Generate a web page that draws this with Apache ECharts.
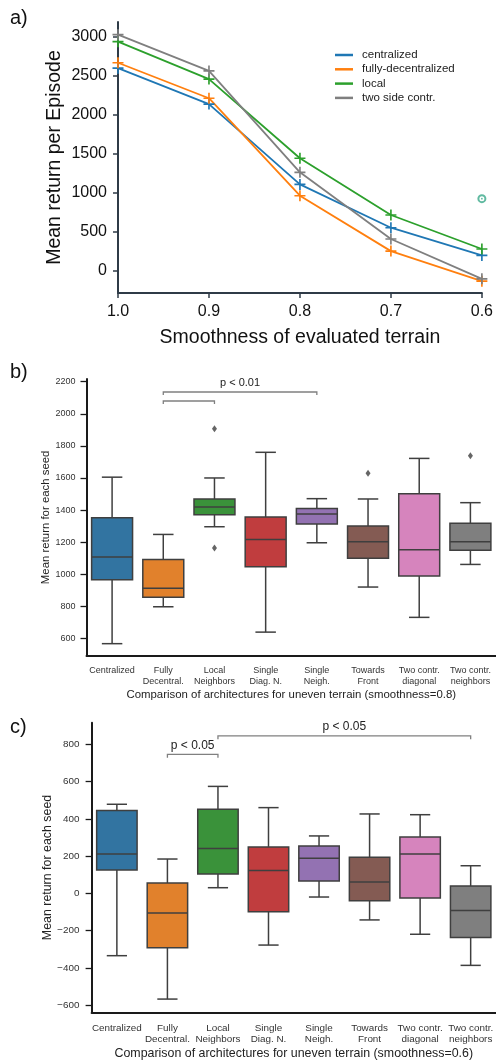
<!DOCTYPE html>
<html>
<head>
<meta charset="utf-8">
<script src="https://cdn.jsdelivr.net/npm/echarts@6/dist/echarts.min.js"></script>
<style>
  html, body { margin: 0; padding: 0; background: #fff; }
  #chart { width: 496px; height: 1063px; }
</style>
</head>
<body>
<div id="chart"></div>
<script>
// ---------- a) mean return vs. terrain smoothness ----------
const smoothness = [1.0, 0.9, 0.8, 0.7, 0.6];
const seriesNames = ['centralized', 'fully-decentralized', 'local', 'two side contr.'];
const centralized = [2600, 2140, 1110, 555, 200];
const fullyDecentralized = [2670, 2215, 965, 255, -130];
const local = [2940, 2460, 1445, 718, 282];
const twoSideContr = [3030, 2565, 1265, 410, -100];
const extraPoint = [[0.6, 927]];
const yTicksA = [0, 500, 1000, 1500, 2000, 2500, 3000];

// ---------- b) and c) per-seed returns by architecture ----------
const architectures = ['Centralized', 'Fully\nDecentral.', 'Local\nNeighbors', 'Single\nDiag. N.',
  'Single\nNeigh.', 'Towards\nFront', 'Two contr.\ndiagonal', 'Two contr.\nneighbors'];

// smoothness = 0.8
const lowB = [567, 797, 1296, 639, 1196, 920, 731, 1061];
const q1B = [966, 856, 1371, 1047, 1313, 1099, 989, 1149];
const medB = [1107, 912, 1419, 1217, 1375, 1203, 1153, 1203];
const q3B = [1352, 1092, 1469, 1356, 1410, 1300, 1502, 1317];
const highB = [1605, 1248, 1600, 1760, 1471, 1469, 1722, 1446];
const outliersB = [[2, 1907], [2, 1163], [5, 1629], [7, 1739]];
const yTicksB = [600, 800, 1000, 1200, 1400, 1600, 1800, 2000, 2200];
// [from, to, bar value, tip value]
const bracketsB = [[1, 2, 2080, 2061], [1, 4, 2136, 2117]];
const bracketTextB = ['', 'p < 0.01'];

// smoothness = 0.6
const lowC = [-335, -568, 30, -278, -20, -143, -220, -387];
const q1C = [125, -292, 104, -99, 66, -40, -25, -238];
const medC = [211, -106, 241, 122, 188, 61, 211, -93];
const q3C = [444, 55, 451, 249, 254, 193, 302, 39];
const highC = [478, 184, 574, 460, 308, 426, 422, 148];
const yTicksC = [-600, -400, -200, 0, 200, 400, 600, 800];
const bracketsC = [[1, 2, 746, 728], [2, 7, 845, 827]];
const bracketTextC = ['p < 0.05', 'p < 0.05'];

const lineColors = ['#1f77b4', '#ff7f0e', '#2ca02c', '#7f7f7f'];
const boxColors = ['#3274a1', '#e1812c', '#3a923a', '#c03d3e', '#9372b2', '#845b53', '#d684bd', '#7f7f7f'];
const EDGE = '#3f3f3f';
const FONT = '"Liberation Sans", Arial, Helvetica, sans-serif';

const plusSymbol = 'path://M8.5,0H11.5V8.5H20V11.5H11.5V20H8.5V11.5H0V8.5H8.5Z';

function pairs(xs, ys) { return xs.map((x, i) => [x, ys[i]]); }
function boxRows(low, q1, med, q3, high) {
  return low.map((v, i) => [i, v, q1[i], med[i], q3[i], high[i]]);
}
// plain integers with a typographic minus sign
function tickText(v) { return String(Math.round(v)).replace('-', '\u2212'); }

function renderBox(params, api) {
  const i = api.value(0);
  const pLow = api.coord([i, api.value(1)]);
  const pQ1 = api.coord([i, api.value(2)]);
  const pMed = api.coord([i, api.value(3)]);
  const pQ3 = api.coord([i, api.value(4)]);
  const pHigh = api.coord([i, api.value(5)]);
  const w = api.size([1, 0])[0] * 0.8;
  const cx = pMed[0];
  const ls = { stroke: EDGE, lineWidth: 1.5 };
  return {
    type: 'group',
    children: [
      { type: 'line', shape: { x1: cx, y1: pLow[1], x2: cx, y2: pQ1[1] }, style: ls },
      { type: 'line', shape: { x1: cx, y1: pQ3[1], x2: cx, y2: pHigh[1] }, style: ls },
      { type: 'line', shape: { x1: cx - w / 4, y1: pLow[1], x2: cx + w / 4, y2: pLow[1] }, style: ls },
      { type: 'line', shape: { x1: cx - w / 4, y1: pHigh[1], x2: cx + w / 4, y2: pHigh[1] }, style: ls },
      { type: 'rect', shape: { x: cx - w / 2, y: pQ3[1], width: w, height: pQ1[1] - pQ3[1] },
        style: { fill: boxColors[params.dataIndex], stroke: EDGE, lineWidth: 1.5 } },
      { type: 'line', shape: { x1: cx - w / 2, y1: pMed[1], x2: cx + w / 2, y2: pMed[1] }, style: ls }
    ]
  };
}

function bracketRenderer(texts, fontSize) {
  return function (params, api) {
    const a = api.coord([api.value(0), api.value(2)]);
    const b = api.coord([api.value(1), api.value(2)]);
    const tip = api.coord([api.value(0), api.value(3)])[1];
    const children = [{
      type: 'polyline',
      shape: { points: [[a[0], tip], [a[0], a[1]], [b[0], b[1]], [b[0], tip]] },
      style: { stroke: '#808080', lineWidth: 1.3, fill: null }
    }];
    const t = texts[params.dataIndex];
    if (t) {
      children.push({
        type: 'text',
        style: { text: t, x: (a[0] + b[0]) / 2, y: a[1] - 9, align: 'center', verticalAlign: 'middle',
          font: fontSize + 'px ' + FONT, fill: '#222' }
      });
    }
    return { type: 'group', children };
  };
}

function catAxis(gridIndex, fontSize, lineHeight, margin, name, nameGap, nameSize) {
  return {
    type: 'category', gridIndex, data: architectures, boundaryGap: true,
    axisLine: { onZero: false, lineStyle: { color: '#1a1a1a', width: 2 } },
    axisTick: { alignWithLabel: true, length: 6, lineStyle: { color: '#1a1a1a', width: 1.3 } },
    axisLabel: { interval: 0, fontSize, lineHeight, margin, color: '#333', fontFamily: FONT },
    splitLine: { show: false },
    name, nameLocation: 'middle', nameGap, nameMoveOverlap: false,
    nameTextStyle: { fontSize: nameSize, color: '#222', fontFamily: FONT }
  };
}

function valAxis(gridIndex, min, max, ticks, fontSize, margin, name, nameGap, nameSize) {
  return {
    type: 'value', gridIndex, min, max,
    axisLine: { show: true, onZero: false, lineStyle: { color: '#1a1a1a', width: 2 } },
    axisTick: { show: true, length: 6, customValues: ticks, lineStyle: { color: '#1a1a1a', width: 1.3 } },
    axisLabel: { fontSize, margin, color: '#333', fontFamily: FONT, customValues: ticks, formatter: tickText },
    splitLine: { show: false },
    name, nameLocation: 'middle', nameGap, nameMoveOverlap: false,
    nameTextStyle: { fontSize: nameSize, color: '#222', fontFamily: FONT }
  };
}

const chart = echarts.init(document.getElementById('chart'), null, { renderer: 'canvas' });

const lineData = [centralized, fullyDecentralized, local, twoSideContr];

const option = {
  backgroundColor: '#fff',
  animation: false,
  textStyle: { fontFamily: FONT },
  grid: [
    { left: 118, top: 22, width: 366, height: 271 },
    { left: 86.5, top: 379, width: 413, height: 276.7 },
    { left: 91.6, top: 722.7, width: 407, height: 289.6 }
  ],
  legend: {
    data: seriesNames, orient: 'vertical', left: 335, top: 49, padding: 0,
    icon: 'rect', itemWidth: 18, itemHeight: 2.5, itemGap: 2.3,
    textStyle: { fontSize: 11.5, lineHeight: 12, color: '#222', fontFamily: FONT, padding: [0, 0, 0, 4] }
  },
  xAxis: [
    {
      type: 'value', gridIndex: 0, min: 0.6, max: 1.0, inverse: true,
      axisLine: { onZero: false, lineStyle: { color: '#2f3b47', width: 2 } },
      axisTick: { length: 5, customValues: smoothness, lineStyle: { color: '#2f3b47', width: 1.5 } },
      axisLabel: { fontSize: 16, margin: 11, color: '#111', fontFamily: FONT,
        customValues: smoothness, formatter: v => v.toFixed(1) },
      splitLine: { show: false },
      name: 'Smoothness of evaluated terrain', nameLocation: 'middle', nameGap: 35, nameMoveOverlap: false,
      nameTextStyle: { fontSize: 19.5, color: '#111', fontFamily: FONT }
    },
    catAxis(1, 9, 10.5, 10, 'Comparison of architectures for uneven terrain (smoothness=0.8)', 33.5, 11.4),
    catAxis(2, 9.9, 11, 10, 'Comparison of architectures for uneven terrain (smoothness=0.6)', 35.5, 12.4)
  ],
  yAxis: [
    {
      type: 'value', gridIndex: 0, min: -282, max: 3192,
      axisLine: { show: true, onZero: false, lineStyle: { color: '#2f3b47', width: 2 } },
      axisTick: { show: true, length: 5, customValues: yTicksA, lineStyle: { color: '#2f3b47', width: 1.5 } },
      axisLabel: { fontSize: 16, margin: 11, color: '#111', fontFamily: FONT, customValues: yTicksA, formatter: tickText },
      splitLine: { show: false },
      name: 'Mean return per Episode', nameLocation: 'middle', nameGap: 53, nameMoveOverlap: false,
      nameTextStyle: { fontSize: 19.5, color: '#111', fontFamily: FONT }
    },
    valAxis(1, 492, 2217, yTicksB, 9, 11, 'Mean return for each seed', 35, 11.4),
    valAxis(2, -639, 916, yTicksC, 9.9, 12, 'Mean return for each seed', 38, 12.4)
  ],
  series: [
    ...seriesNames.map((name, k) => ({
      name, type: 'line', xAxisIndex: 0, yAxisIndex: 0,
      data: pairs(smoothness, lineData[k]),
      lineStyle: { color: lineColors[k], width: 1.8 },
      itemStyle: { color: lineColors[k] },
      symbol: plusSymbol, symbolSize: 11, showAllSymbol: true,
      clip: true, z: 3
    })),
    {
      type: 'scatter', xAxisIndex: 0, yAxisIndex: 0, data: extraPoint,
      symbol: 'emptyCircle', symbolSize: 7,
      itemStyle: { color: '#3aa98a', borderColor: '#3aa98a', borderWidth: 1 }, silent: true
    },
    {
      type: 'scatter', xAxisIndex: 0, yAxisIndex: 0, data: extraPoint,
      symbol: 'circle', symbolSize: 1.8, itemStyle: { color: '#3aa98a' }, silent: true
    },
    {
      type: 'custom', xAxisIndex: 1, yAxisIndex: 1,
      data: boxRows(lowB, q1B, medB, q3B, highB),
      encode: { x: 0, y: [1, 2, 3, 4, 5] }, renderItem: renderBox, clip: false
    },
    {
      type: 'scatter', xAxisIndex: 1, yAxisIndex: 1, data: outliersB,
      symbol: 'diamond', symbolSize: [5, 7], itemStyle: { color: EDGE }
    },
    {
      type: 'custom', xAxisIndex: 1, yAxisIndex: 1, data: bracketsB,
      encode: { x: [0, 1], y: [2, 3] }, renderItem: bracketRenderer(bracketTextB, 11), clip: false
    },
    {
      type: 'custom', xAxisIndex: 2, yAxisIndex: 2,
      data: boxRows(lowC, q1C, medC, q3C, highC),
      encode: { x: 0, y: [1, 2, 3, 4, 5] }, renderItem: renderBox, clip: false
    },
    {
      type: 'custom', xAxisIndex: 2, yAxisIndex: 2, data: bracketsC,
      encode: { x: [0, 1], y: [2, 3] }, renderItem: bracketRenderer(bracketTextC, 12), clip: false
    }
  ],
  graphic: [
    { type: 'text', left: 10, top: 8, style: { text: 'a)', font: '20px ' + FONT, fill: '#111' } },
    { type: 'text', left: 10, top: 362, style: { text: 'b)', font: '20px ' + FONT, fill: '#111' } },
    { type: 'text', left: 10, top: 717, style: { text: 'c)', font: '20px ' + FONT, fill: '#111' } }
  ]
};

chart.setOption(option);
</script>
</body>
</html>
